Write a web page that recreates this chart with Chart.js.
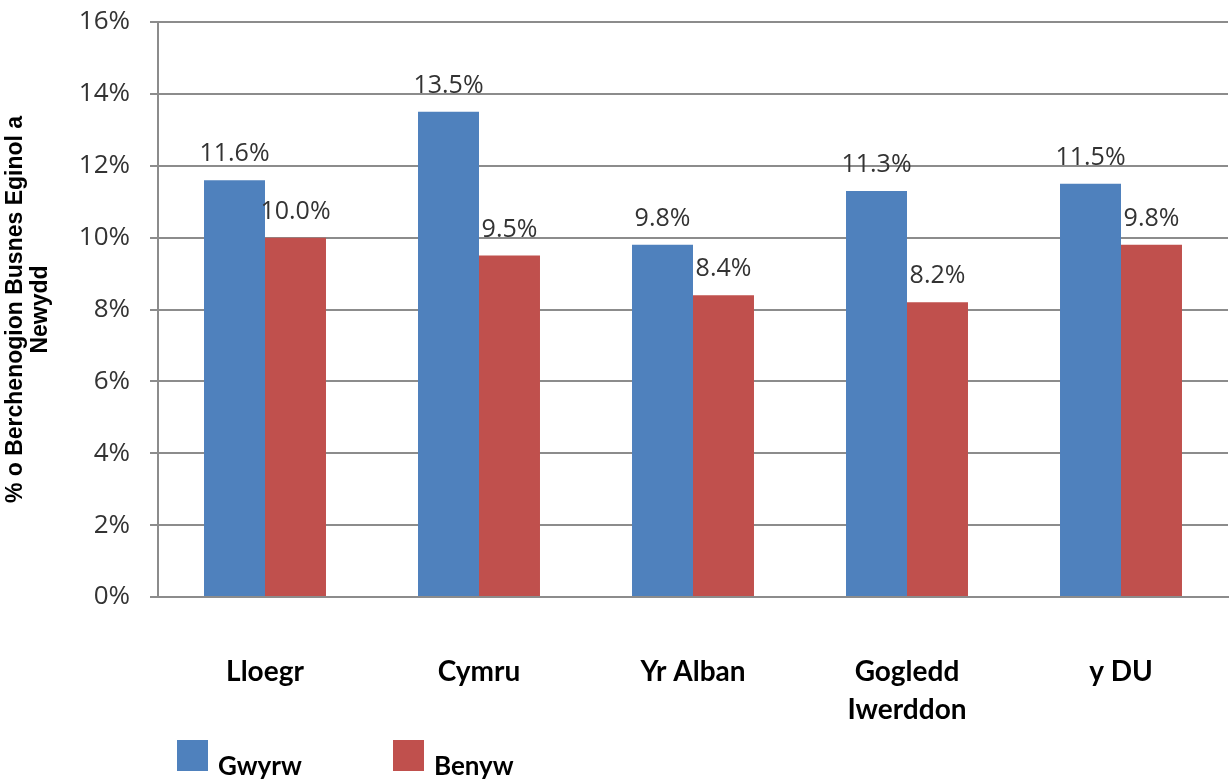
<!DOCTYPE html>
<html>
<head>
<meta charset="utf-8">
<script src="https://cdn.jsdelivr.net/npm/chart.js@4"></script>
<style>
html,body{margin:0;padding:0;background:#fff;}
#wrap{width:1231px;height:782px;position:relative;}
</style>
</head>
<body>
<div id="wrap"><canvas id="c" width="1231" height="782"></canvas></div>
<script>
const categories = [["Lloegr"], ["Cymru"], ["Yr Alban"], ["Gogledd", "Iwerddon"], ["y DU"]];
const seriesNames = ["Gwyrw", "Benyw"];
const maleValues = [11.6, 13.5, 9.8, 11.3, 11.5];
const femaleValues = [10.0, 9.5, 8.4, 8.2, 9.8];
const yTitle = ["% o Berchenogion Busnes Eginol a", "Newydd"];
const colors = ["#4F81BD", "#C0504D"];

const labelPlugin = {
  id: 'barLabels',
  afterDatasetsDraw(chart) {
    const ctx = chart.ctx;
    ctx.save();
    ctx.font = '25px "Open Sans"';
    ctx.fillStyle = '#333333';
    ctx.textAlign = 'center';
    ctx.textBaseline = 'alphabetic';
    chart.data.datasets.forEach((ds, i) => {
      const meta = chart.getDatasetMeta(i);
      meta.data.forEach((bar, j) => {
        ctx.fillText(ds.data[j].toFixed(1) + '%', bar.x, bar.y - 19);
      });
    });
    ctx.restore();
  }
};

const legendPlugin = {
  id: 'customLegend',
  afterDraw(chart) {
    const ctx = chart.ctx;
    const left = chart.chartArea.left;
    const offsets = [19, 235];
    ctx.save();
    chart.data.datasets.forEach((ds, i) => {
      const x = left + offsets[i];
      ctx.fillStyle = ds.backgroundColor;
      ctx.fillRect(x, 740, 31, 31);
      ctx.fillStyle = '#000';
      ctx.font = 'bold 26px Lato';
      ctx.textBaseline = 'alphabetic';
      ctx.textAlign = 'left';
      ctx.fillText(ds.label, x + 41, 775);
    });
    ctx.restore();
  }
};

new Chart(document.getElementById('c'), {
  type: 'bar',
  data: {
    labels: categories,
    datasets: [
      { label: seriesNames[0], data: maleValues, backgroundColor: colors[0] },
      { label: seriesNames[1], data: femaleValues, backgroundColor: colors[1] }
    ]
  },
  options: {
    responsive: false,
    animation: false,
    devicePixelRatio: 1,
    layout: { autoPadding: false, padding: { top: 22, right: 3, left: 0, bottom: 0 } },
    plugins: { legend: { display: false }, tooltip: { enabled: false } },
    datasets: { bar: { categoryPercentage: 0.57, barPercentage: 1.0 } },
    scales: {
      x: {
        grid: { display: false, drawTicks: false },
        border: { display: true, color: '#8c8c8c', width: 2 },
        ticks: { font: { family: 'Lato', size: 28, weight: 'bold', lineHeight: 1.35 }, color: '#000', padding: 56, maxRotation: 0, autoSkip: false },
        afterFit(s) { s.height = 185; s.paddingLeft = 0; s.paddingRight = 0; }
      },
      y: {
        min: 0, max: 16,
        ticks: { stepSize: 2, callback: v => v + '%', font: { family: 'Open Sans', size: 26 }, color: '#333333', padding: 20 },
        grid: { color: '#8c8c8c', lineWidth: 2, tickLength: 8, drawTicks: true },
        border: { display: true, color: '#8c8c8c', width: 2 },
        title: { display: true, text: yTitle, font: { family: 'Liberation Sans', size: 23, weight: 'bold', lineHeight: 1.05 }, color: '#000', padding: { top: 4, bottom: 0 } },
        afterFit(s) { s.width = 158; s.paddingTop = 0; s.paddingBottom = 0; }
      }
    }
  },
  plugins: [labelPlugin, legendPlugin]
});
</script>
</body>
</html>
